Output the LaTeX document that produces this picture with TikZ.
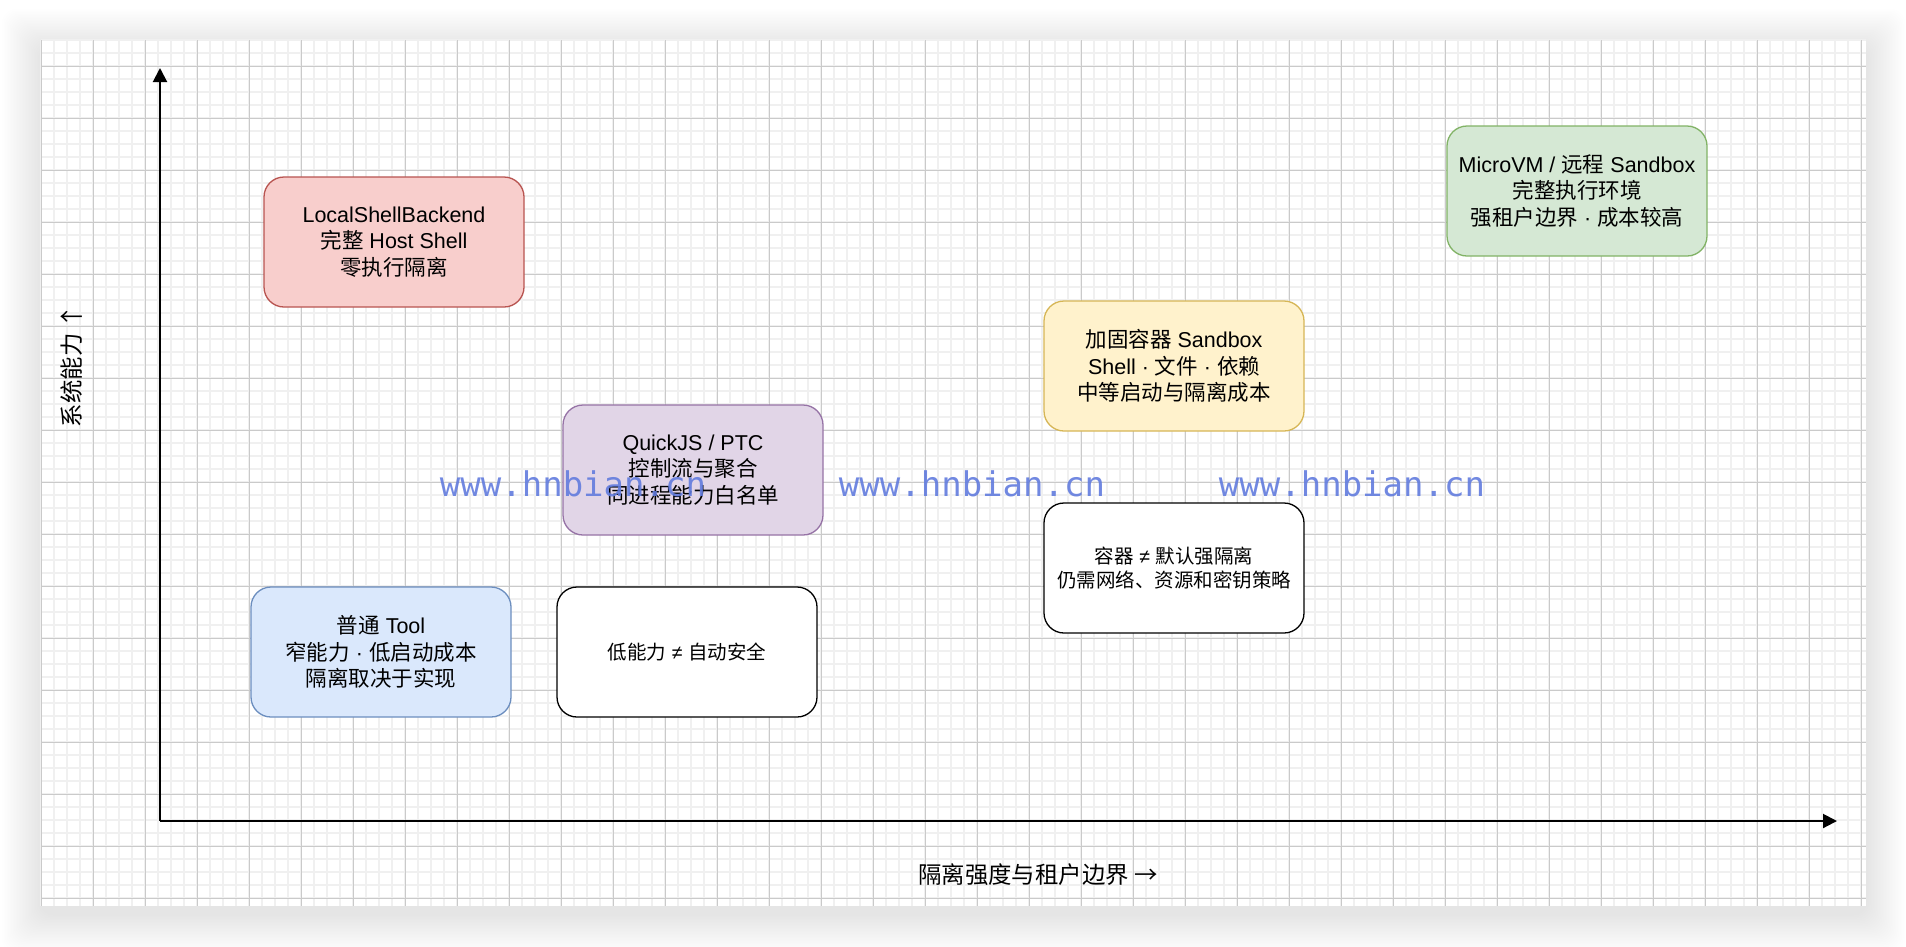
\documentclass[tikz,border=0pt]{standalone}
\usepackage{fontspec}
\setmainfont{Liberation Sans}
\newfontfamily\zh{Noto Sans CJK SC}
\newfontfamily\wmfont{DejaVu Sans Mono}
\usetikzlibrary{arrows.meta}
\definecolor{redfill}{HTML}{F8CECC}\definecolor{redline}{HTML}{B85450}
\definecolor{purfill}{HTML}{E1D5E7}\definecolor{purline}{HTML}{9673A6}
\definecolor{yelfill}{HTML}{FFF2CC}\definecolor{yelline}{HTML}{D6B656}
\definecolor{grnfill}{HTML}{D5E8D4}\definecolor{grnline}{HTML}{82B366}
\definecolor{blufill}{HTML}{DAE8FC}\definecolor{bluline}{HTML}{6C8EBF}
\definecolor{minorgrid}{HTML}{F0F0F0}
\definecolor{majorgrid}{HTML}{CACACA}
\definecolor{wmblue}{RGB}{98,124,222}
\tikzset{
  minorln/.style={draw=minorgrid, line width=1.8pt},
  majorln/.style={draw=majorgrid, line width=1pt},
  card/.style={rectangle, rounded corners=20pt, line width=1.3pt,
    minimum width=260pt, minimum height=130pt, inner sep=0pt,
    align=center, text=black, font=\fontsize{21.5}{26.7}\selectfont},
  notecard/.style={card, draw=black, fill=white, font=\fontsize{19.5}{23.4}\selectfont},
  axisline/.style={line width=2pt, -{Triangle[width=14pt,length=14pt]}},
  axislabel/.style={font=\fontsize{23.4}{28}\selectfont, text=black, inner sep=0pt},
  watermark/.style={font=\wmfont\fontsize{34}{40}\selectfont, text=wmblue, text opacity=0.9, inner sep=0pt, anchor=base}
}
\begin{document}
\begin{tikzpicture}[x=1pt,y=-1pt]
\useasboundingbox (0,0) rectangle (1906,946);
\fill[white] (0,0) rectangle (1906,946);
% soft shadow around the canvas
\foreach \i in {1,...,26}{
  \fill[black, opacity=0.0045, rounded corners=14pt]
    ({41-1.5*\i},{48-1.5*\i}) rectangle ({1866+1.5*\i},{914+1.5*\i});
}
% canvas
\fill[white] (41,40) rectangle (1866,906);
% grid
\foreach \k in {0,...,140}{ \draw[minorln] ({41+13*\k},40) -- ({41+13*\k},906); }
\foreach \k in {0,...,66}{ \draw[minorln] (41,{40+13*\k}) -- (1866,{40+13*\k}); }
\foreach \k in {0,...,35}{ \draw[majorln] ({41+52*\k},40) -- ({41+52*\k},906); }
\foreach \k in {0,...,16}{ \draw[majorln] (41,{66+52*\k}) -- (1866,{66+52*\k}); }

% axes
\coordinate (O) at (160,821);
\coordinate (ytip) at (160,68);
\coordinate (xtip) at (1837,821);
\draw[axisline] (O) -- (ytip);
\draw[axisline] (O) -- (xtip);
\node[axislabel] (xlabel) at (1038,875) {\zh 隔离强度与租户边界 →};
\node[axislabel, rotate=90] (ylabel) at (72,366) {\zh 系统能力 ↑};

% cards
\node[card, draw=redline, fill=redfill] (local) at (394,242)
  {LocalShellBackend\\{\zh 完整} Host Shell\\{\zh 零执行隔离}};
\node[card, draw=purline, fill=purfill] (quickjs) at (693,470)
  {QuickJS / PTC\\{\zh 控制流与聚合}\\{\zh 同进程能力白名单}};
\node[card, draw=yelline, fill=yelfill] (container) at (1174,366)
  {{\zh 加固容器} Sandbox\\Shell · {\zh 文件} · {\zh 依赖}\\{\zh 中等启动与隔离成本}};
\node[card, draw=grnline, fill=grnfill] (microvm) at (1577,191)
  {MicroVM / {\zh 远程} Sandbox\\{\zh 完整执行环境}\\{\zh 强租户边界} · {\zh 成本较高}};
\node[card, draw=bluline, fill=blufill] (tool) at (381,652)
  {{\zh 普通} Tool\\{\zh 窄能力} · {\zh 低启动成本}\\{\zh 隔离取决于实现}};
\node[notecard] (lowcap) at (687,652)
  {{\zh 低能力} ≠ {\zh 自动安全}};
\node[notecard] (contnote) at (1174,568)
  {{\zh 容器} ≠ {\zh 默认强隔离}\\{\zh 仍需网络、资源和密钥策略}};

% watermarks
\node[watermark] (wm1) at (573,496) {www.hnbian.cn};
\node[watermark] (wm2) at (972,496) {www.hnbian.cn};
\node[watermark] (wm3) at (1352,496) {www.hnbian.cn};
\end{tikzpicture}
\end{document}
